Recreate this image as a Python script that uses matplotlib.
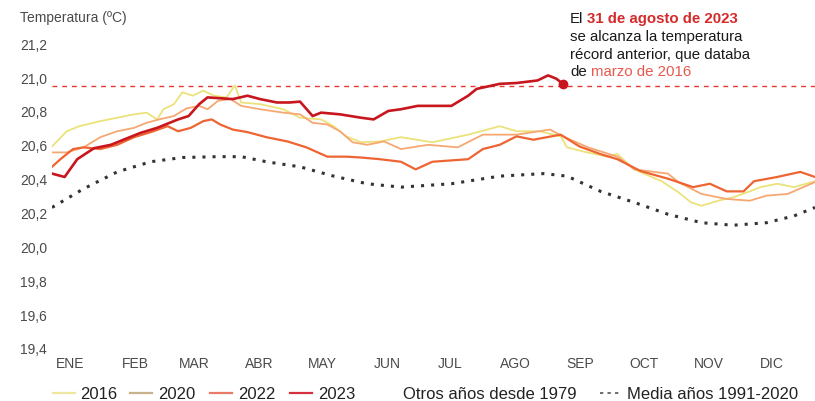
import numpy as np
import matplotlib
matplotlib.use('Agg')
import matplotlib.pyplot as plt
from matplotlib.lines import Line2D

plt.rcParams['font.family'] = ['Liberation Sans', 'DejaVu Sans']

# Day of year (0 = 1 Jan) and sea surface temperature (degC)
days_2016 = [0, 7, 13, 23, 31, 39, 45, 50, 53, 58, 62, 67, 72, 77, 83, 87, 90, 99,
             110, 118, 128, 134, 140, 147, 156, 166, 181, 198, 213, 221, 232, 242,
             245, 253, 264, 269, 277, 290, 298, 304, 309, 317, 324, 332, 337, 345,
             353, 363]
temp_2016 = [20.59, 20.68, 20.71, 20.74, 20.76, 20.78, 20.79, 20.75, 20.81, 20.84,
             20.91, 20.89, 20.92, 20.89, 20.88, 20.95, 20.85, 20.84, 20.81, 20.76,
             20.75, 20.71, 20.65, 20.615, 20.62, 20.645, 20.615, 20.66, 20.71, 20.68,
             20.68, 20.65, 20.585, 20.56, 20.53, 20.545, 20.455, 20.385, 20.32, 20.26,
             20.24, 20.27, 20.29, 20.325, 20.35, 20.37, 20.35, 20.385]

days_2020 = [0, 7, 15, 23, 31, 39, 45, 51, 58, 64, 70, 74, 79, 85, 90, 99, 110, 118,
             124, 131, 137, 143, 150, 158, 166, 179, 193, 205, 221, 237, 243, 255,
             269, 277, 293, 298, 309, 321, 332, 340, 350, 363]
temp_2020 = [20.555, 20.555, 20.585, 20.645, 20.68, 20.70, 20.73, 20.75, 20.77, 20.815,
             20.83, 20.81, 20.86, 20.87, 20.83, 20.81, 20.79, 20.78, 20.73, 20.72,
             20.68, 20.615, 20.60, 20.62, 20.575, 20.60, 20.585, 20.66, 20.66, 20.69,
             20.65, 20.585, 20.53, 20.455, 20.43, 20.38, 20.31, 20.28, 20.27, 20.30,
             20.31, 20.38]

days_2022 = [0, 4, 10, 15, 23, 31, 39, 47, 55, 60, 66, 72, 76, 80, 86, 93, 102, 112,
             121, 131, 140, 147, 156, 166, 173, 181, 198, 205, 213, 221, 229, 242,
             251, 261, 269, 280, 293, 305, 313, 321, 329, 334, 345, 356, 363]
temp_2022 = [20.47, 20.515, 20.575, 20.585, 20.575, 20.60, 20.645, 20.675, 20.71, 20.68,
             20.70, 20.74, 20.75, 20.72, 20.69, 20.675, 20.645, 20.62, 20.585, 20.53,
             20.53, 20.525, 20.515, 20.50, 20.455, 20.50, 20.515, 20.575, 20.60, 20.65,
             20.63, 20.66, 20.59, 20.545, 20.515, 20.445, 20.40, 20.35, 20.37, 20.325,
             20.325, 20.385, 20.41, 20.44, 20.41]

days_2023 = [0, 6, 12, 20, 28, 36, 42, 50, 60, 65, 70, 74, 80, 86, 93, 99, 107, 113,
             118, 124, 128, 137, 147, 153, 160, 166, 174, 181, 190, 198, 202, 213,
             221, 231, 236, 240, 243]
temp_2023 = [20.43, 20.41, 20.515, 20.58, 20.60, 20.64, 20.67, 20.70, 20.75, 20.77,
             20.84, 20.88, 20.875, 20.87, 20.89, 20.87, 20.85, 20.85, 20.855, 20.77,
             20.79, 20.78, 20.76, 20.75, 20.80, 20.81, 20.83, 20.83, 20.83, 20.89,
             20.93, 20.96, 20.965, 20.98, 21.01, 20.99, 20.96]

days_mean = [0, 15, 31, 47, 62, 79, 90, 102, 118, 134, 150, 166, 190, 213, 234, 245,
             261, 277, 293, 309, 324, 340, 353, 363]
temp_mean = [20.23, 20.34, 20.44, 20.50, 20.525, 20.53, 20.53, 20.50, 20.47, 20.415,
             20.37, 20.35, 20.37, 20.415, 20.43, 20.415, 20.325, 20.26, 20.19, 20.14,
             20.125, 20.14, 20.18, 20.23]

record_2016 = 20.95

months = ['ENE', 'FEB', 'MAR', 'ABR', 'MAY', 'JUN', 'JUL', 'AGO', 'SEP', 'OCT', 'NOV', 'DIC']
month_start = [0, 31, 59, 90, 120, 151, 181, 212, 243, 273, 304, 334]
yticks = [19.4, 19.6, 19.8, 20.0, 20.2, 20.4, 20.6, 20.8, 21.0, 21.2]

c2016 = '#ece27a'
c2020 = '#f6a873'
c2022 = '#ee6432'
c2023 = '#c8161e'
txt = '#4a4a4a'

W, H = 815, 402
fig = plt.figure(figsize=(W / 100, H / 100), dpi=100)
ax = fig.add_axes([52 / W, 1 - 349 / H, 1 - 52 / W, (349 - 35.75) / H])

ax.axhline(record_2016, color='#e23a32', lw=1.0, dashes=(3.5, 3.5), zorder=1)
ax.plot(days_mean, temp_mean, color='#333333', lw=2.2, linestyle=(0, (1, 2.3)), zorder=2)
ax.plot(days_2016, temp_2016, color=c2016, lw=1.3, zorder=3)
ax.plot(days_2020, temp_2020, color=c2020, lw=1.3, zorder=4)
ax.plot(days_2022, temp_2022, color=c2022, lw=1.6, zorder=5)
ax.plot(days_2023, temp_2023, color=c2023, lw=1.9, zorder=6)
ax.plot(days_2023[-1], temp_2023[-1], 'o', color=c2023, ms=6, zorder=7)

ax.set_xlim(0, 363)
ax.set_ylim(19.4, 21.25)
for s in ax.spines.values():
    s.set_visible(False)

ax.set_yticks(yticks)
ax.set_yticklabels([('%.1f' % v).replace('.', ',') for v in yticks])
ax.tick_params(axis='y', length=0, pad=23, labelsize=10, labelcolor=txt)
for lab in ax.get_yticklabels():
    lab.set_ha('left')

ax.set_xticks([m + 8.5 for m in month_start])
ax.set_xticklabels(months)
ax.tick_params(axis='x', length=0, pad=6, labelsize=10, labelcolor=txt)

fig.text(20 / W, 1 - 18 / H, 'Temperatura (ºC)', fontsize=10, color=txt, va='center')

# annotation about the record
red = '#d42a2a'
fig.text(570 / W, 1 - 19 / H, 'El', fontsize=10.8, color='#1a1a1a', va='center')
fig.text(587 / W, 1 - 19 / H, '31 de agosto de 2023', fontsize=10.8, color=red,
         fontweight='bold', va='center')
fig.text(570 / W, 1 - 37 / H, 'se alcanza la temperatura', fontsize=10.8,
         color='#1a1a1a', va='center')
fig.text(570 / W, 1 - 55 / H, 'récord anterior, que databa', fontsize=10.8,
         color='#1a1a1a', va='center')
fig.text(570 / W, 1 - 72 / H, 'de', fontsize=10.8, color='#1a1a1a', va='center')
fig.text(591 / W, 1 - 72 / H, 'marzo de 2016', fontsize=10.8, color='#e8584e', va='center')

# legend along the bottom
leg_y = 1 - 394 / H
base_y = 1 - 399 / H
leg = [(53, 80, '#efe6a0', '2016'), (130, 158, '#c9b38d', '2020'),
       (210, 238, '#e87a68', '2022'), (290, 318, '#d6303e', '2023')]
for x0, xt, col, lab in leg:
    fig.add_artist(Line2D([x0 / W, (x0 + 22) / W], [leg_y, leg_y], color=col, lw=1.6))
    fig.text(xt / W, base_y, lab, fontsize=12, color='#222222', va='baseline')
fig.text(403 / W, base_y, 'Otros años desde 1979', fontsize=12, color='#222222',
         va='baseline')
fig.add_artist(Line2D([600 / W, 621 / W], [leg_y, leg_y], color='#555555', lw=1.2,
                      dashes=(2, 2.5)))
fig.text(627 / W, base_y, 'Media años 1991-2020', fontsize=12, color='#222222',
         va='baseline')

fig.savefig('out.png', dpi=100)
